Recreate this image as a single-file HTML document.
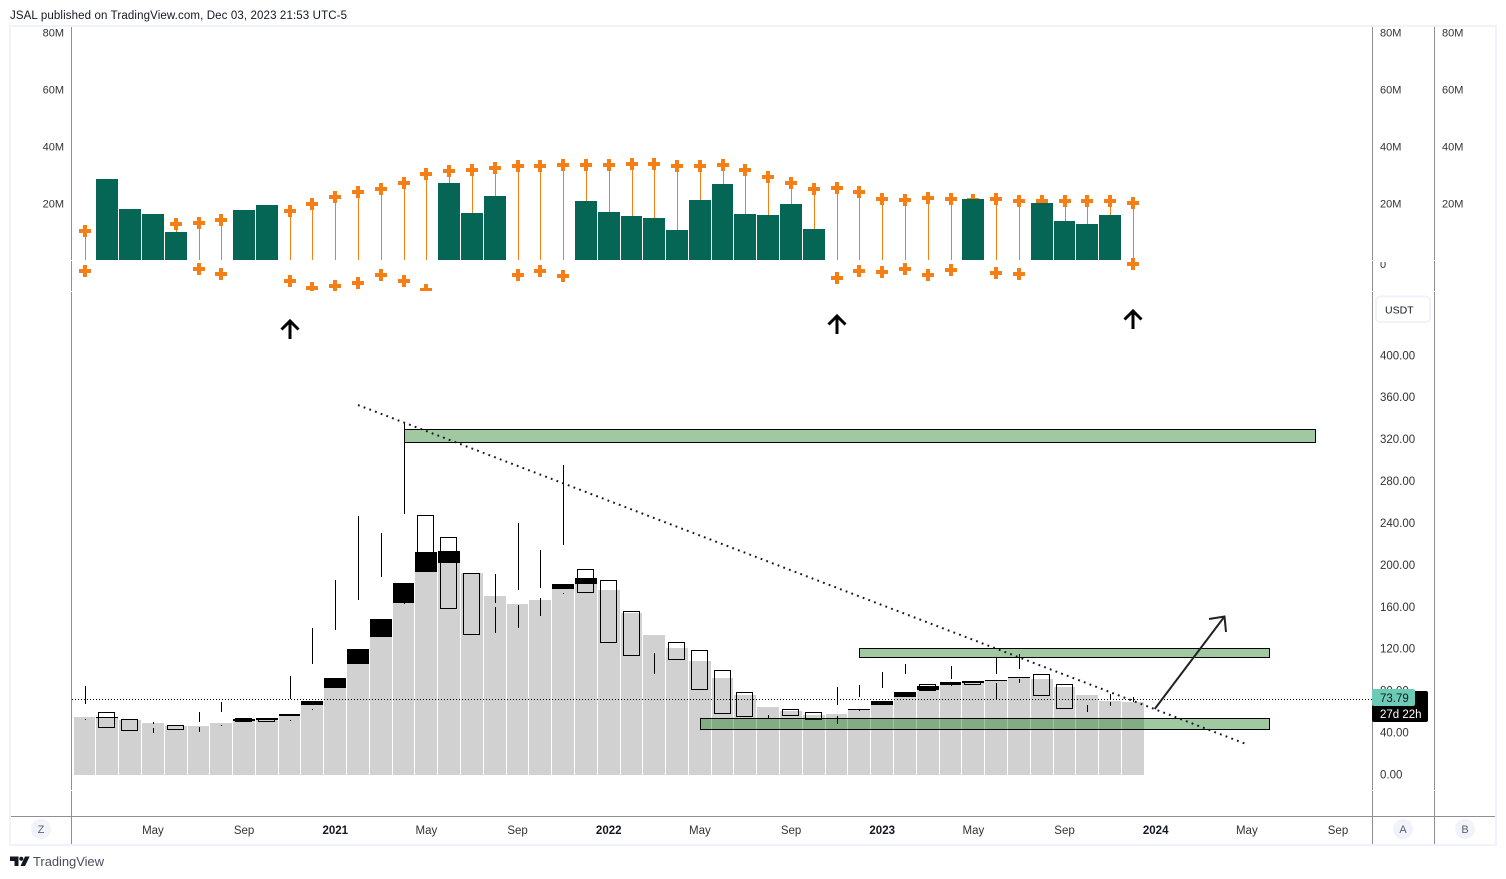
<!DOCTYPE html>
<html>
<head>
<meta charset="utf-8">
<title>JSAL chart</title>
<style>
html,body{margin:0;padding:0;background:#fff;width:1506px;height:879px;overflow:hidden}
svg{display:block;font-family:"Liberation Sans",sans-serif}
</style>
</head>
<body>
<svg id="chart" xmlns="http://www.w3.org/2000/svg" width="1506" height="879" viewBox="0 0 1506 879">
  <defs>
    <clipPath id="vol-clip"><rect x="72" y="27" width="1300" height="264"></rect></clipPath>
    <clipPath id="zero-clip"><rect x="1373" y="262" width="60" height="29"></rect></clipPath>
  </defs>
  <text x="10" y="19" font-size="11.5" fill="#131722" textLength="337" lengthAdjust="spacing">JSAL published on TradingView.com, Dec 03, 2023 21:53 UTC-5</text>
  <rect x="10" y="26" width="1486" height="819" fill="#fff" stroke="#f0f3fa" stroke-width="2"></rect>

  <g id="volume-layer" clip-path="url(#vol-clip)"></g>
  <g id="price-layer"></g>
  <g id="axis-layer"></g>

  <g fill="none" stroke="#000" stroke-width="3">
    <path d="M290 321V339M281.500 329.500L290 321L298.500 329.500"></path>
  </g>
  <g fill="none" stroke="#000" stroke-width="3">
    <path d="M837 316V334M828.500 324.500L837 316L845.500 324.500"></path>
  </g>
  <g fill="none" stroke="#000" stroke-width="3">
    <path d="M1133 311V329M1124.500 319.500L1133 311L1141.500 319.500"></path>
  </g>

  <rect x="404.500" y="429.500" width="911" height="13" fill="rgba(0,109,0,.37)" stroke="#000" stroke-width="1"></rect>
  <rect x="859.500" y="648.500" width="410" height="9" fill="rgba(0,109,0,.37)" stroke="#000" stroke-width="1"></rect>
  <rect x="700.500" y="718.500" width="569" height="11" fill="rgba(0,109,0,.37)" stroke="#000" stroke-width="1"></rect>
  <line x1="358" y1="405" x2="1246" y2="744" stroke="#131722" stroke-width="2" stroke-dasharray="1.800 4.270"></line>
  <g fill="none" stroke="#222" stroke-width="2">
    <path d="M1154.700 709L1224.500 616.500M1209 619L1224.500 616.500L1226 632"></path>
  </g>

  <g>
    <rect x="1376" y="296.500" width="54" height="25.500" rx="4" fill="#fff" stroke="#f0f3fa" stroke-width="2"></rect>
    <text x="1385" y="313.500" font-size="10.500" fill="#131722">USDT</text>
  </g>
  <g>
    <rect x="1372" y="691" width="56" height="31" rx="2" fill="#000"></rect>
    <text x="1380" y="718" font-size="11.500" fill="#fff">27d 22h</text>
  </g>
  <g>
    <rect x="1372" y="689" width="43" height="17" rx="2" fill="#6ccbb6"></rect>
    <text x="1380" y="702" font-size="11.500" fill="#131722">73.79</text>
  </g>

  <g>
    <circle cx="41" cy="829" r="10" fill="#f0f3fa"></circle>
    <text x="41" y="833" font-size="11" fill="#5d606b" text-anchor="middle">Z</text>
  </g>
  <g>
    <circle cx="1403" cy="829" r="10" fill="#f0f3fa"></circle>
    <text x="1403" y="833" font-size="11" fill="#5d606b" text-anchor="middle">A</text>
  </g>
  <g>
    <circle cx="1465" cy="829" r="10" fill="#f0f3fa"></circle>
    <text x="1465" y="833" font-size="11" fill="#5d606b" text-anchor="middle">B</text>
  </g>

  <g>
    <path d="M10 856.500H18.500V866H14.500V861H10Z" fill="#131722"></path>
    <circle cx="21.300" cy="858.800" r="2" fill="#131722"></circle>
    <path d="M25 856.500H29.700L25 866H20.500Z" fill="#131722"></path>
    <text x="33" y="866" font-size="13" fill="#4a4e5a" textLength="71" lengthAdjust="spacing">TradingView</text>
  </g>
</svg>
<script>
/* Volume pane data, millions. null = no mark in that period */
var volumeBars = [null,28.4,17.9,16.1,9.8,null,null,17.5,19.3,null,null,null,null,null,null,null,27.0,16.5,22.5,null,null,null,20.7,16.8,15.4,14.7,10.5,21.1,26.7,16.1,15.8,19.6,10.9,null,null,null,null,null,null,21.4,null,null,20.0,13.7,12.6,15.8,null];
var upperMarks = [10.2,12,12,12,12.6,13.0,14.0,14.5,15.5,17.2,19.6,22.1,23.9,24.9,27.0,30.2,31.2,31.6,32.3,33.0,33.0,33.3,33.3,33.3,33.7,33.7,33.0,33.0,33.3,31.6,29.1,27.0,24.9,25.3,23.9,21.4,21.1,21.8,21.4,21.1,21.4,20.7,20.7,20.7,20.7,20.7,20.0];
var lowerMarks = [-3.9,null,null,null,null,-3.2,-4.9,null,null,-7.4,-9.8,-9.1,-8.1,-5.3,-7.4,-10.5,null,null,null,-5.3,-3.9,-5.6,null,null,null,null,null,null,null,null,null,null,null,-6.3,-3.9,-4.2,-3.2,-5.3,-3.5,null,-4.6,-4.9,null,null,null,null,-1.4];

/* Price pane data, USDT */
var grayColumns = [55.3,54.4,52.5,49.6,46.8,46.8,49.6,51.5,52.5,56.3,66.8,83.0,105.9,131.7,164.1,193.7,202.3,192.7,170.8,163.2,167.0,177.5,182.2,176.5,154.6,133.6,121.2,108.8,92.6,76.3,64.9,61.1,57.3,58.2,62.0,66.8,74.4,81.1,85.9,87.8,89.7,92.6,91.6,84.0,76.3,70.6,69.7];
var blackColumns = [null,55.3,null,null,null,null,null,53.4,54.4,58.2,70.6,92.6,120.2,148.9,183.2,212.8,213.7,null,null,null,null,182.2,188.0,null,null,null,null,null,null,null,null,null,null,null,63.0,70.6,79.2,84.9,88.7,89.7,90.6,93.5,null,null,null,null,null];
var candleOpen = [53.4,60.1,53.4,44.8,47.7,45.8,47.7,54.4,54.4,52.5,63.0,90.6,119.3,147.9,164.1,248.1,227.1,192.7,160.3,162.2,168.9,173.7,196.6,186.1,156.5,96.4,126.9,119.3,100.2,79.2,53.4,63.0,60.1,56.3,62.0,67.7,75.4,86.8,85.9,89.7,87.8,91.6,96.4,86.8,60.1,69.7,69.7];
var candleHigh = [84.9,60.1,53.4,50.6,47.7,60.1,69.7,54.4,54.4,94.5,140.3,186.1,247.1,230.9,336.8,248.1,227.1,192.7,191.8,240.5,214.7,295.8,196.6,186.1,156.5,116.4,126.9,119.3,100.2,79.2,57.3,63.0,60.1,84.0,85.9,98.3,105.9,86.8,104.0,89.7,111.6,115.5,96.4,86.8,66.8,77.3,74.4];
var candleLow = [52.5,45.8,42.9,40.1,43.9,41.0,46.8,51.5,51.5,51.5,62.0,90.6,119.3,147.9,163.2,209.0,159.4,134.5,135.5,140.3,151.7,172.7,174.6,126.9,114.5,96.4,110.7,82.1,59.2,56.3,53.4,57.3,53.4,48.7,61.1,67.7,75.4,81.1,84.9,86.8,72.5,87.8,76.3,63.9,60.1,65.8,69.7];
var candleClose = [67.7,45.8,42.9,48.7,43.9,50.6,60.1,51.5,51.5,72.5,105.9,138.4,167.0,188.9,249.0,209.0,159.4,134.5,164.1,176.5,178.4,219.5,174.6,126.9,114.5,96.4,110.7,82.1,59.2,56.3,53.4,57.3,53.4,66.8,74.4,83.0,96.4,81.1,91.6,86.8,96.4,101.1,76.3,63.9,60.1,72.5,69.7];
var priceLineValue = 72.5;

/* Axis labels */
var volumeTicks = [20,40,60,80];
var priceTicks = [0,40,80,120,160,200,240,280,320,360,400];
var timeLabels = ['May','Sep','2021','May','Sep','2022','May','Sep','2023','May','Sep','2024','May','Sep'];
var timeLabelPeriods = [3,7,11,15,19,23,27,31,35,39,43,47,51,55];

var NS = 'http://www.w3.org/2000/svg';
function xAt(i){ return 84.56 + i * 22.79; }
function volY(v){ return 260 - v * 2.85; }
function priceY(p){ return 775 - p * 1.048; }
function colLeft(i){ return Math.round(xAt(i) - 11); }
function colWidth(i){ return Math.round(xAt(i + 1) - 11) - 1 - colLeft(i); }

function makeRect(parent, x, y, w, h, fill){
  var r = document.createElementNS(NS, 'rect');
  r.setAttribute('x', x);
  r.setAttribute('y', y);
  r.setAttribute('width', w);
  r.setAttribute('height', Math.max(h, 0));
  r.setAttribute('fill', fill);
  r.setAttribute('shape-rendering', 'crispEdges');
  parent.appendChild(r);
  return r;
}
function makeText(parent, x, y, str, size, fill, anchor){
  var t = document.createElementNS(NS, 'text');
  t.setAttribute('x', x);
  t.setAttribute('y', y);
  t.setAttribute('font-size', size);
  t.setAttribute('fill', fill);
  if (anchor) t.setAttribute('text-anchor', anchor);
  t.textContent = str;
  parent.appendChild(t);
  return t;
}

var ORANGE = '#f57f17';
var volLayer = document.getElementById('volume-layer');
var priceLayer = document.getElementById('price-layer');
var axisLayer = document.getElementById('axis-layer');

function drawPlus(i, v, name){
  var cx = Math.round(xAt(i));
  var cy = Math.round(volY(v));
  var g = document.createElementNS(NS, 'g');
  
  
  makeRect(g, cx - 6, cy - 2, 12, 4, ORANGE);
  makeRect(g, cx - 2, cy - 6, 4, 12, ORANGE);
  volLayer.appendChild(g);
}

upperMarks.forEach(function(v, i){
  var stem = makeRect(volLayer, Math.round(xAt(i)), volY(v), 1, 260 - volY(v), ORANGE);
  
  
  drawPlus(i, v, 'upper-plus-marker');
});
lowerMarks.forEach(function(v, i){
  if (v === null) return;
  drawPlus(i, v, 'lower-plus-marker');
});
volumeBars.forEach(function(v, i){
  if (v === null) return;
  var bar = makeRect(volLayer, colLeft(i), volY(v), colWidth(i), 260 - volY(v), '#056656');
  
  
});

grayColumns.forEach(function(v, i){
  var col = makeRect(priceLayer, colLeft(i), priceY(v), colWidth(i), 775 - priceY(v), '#d1d1d1');
  
  
});

candleOpen.forEach(function(o, i){
  var c = candleClose[i];
  var cx = Math.round(xAt(i));
  if (c >= o) {
    var upper = makeRect(priceLayer, cx, priceY(candleHigh[i]), 1, priceY(c) - priceY(candleHigh[i]), '#000');
    
    
    var lower = makeRect(priceLayer, cx, priceY(o), 1, priceY(candleLow[i]) - priceY(o), '#000');
    
    
  } else {
    var body = makeRect(priceLayer, cx - 8.5, priceY(o) + 0.5, 16, priceY(c) - priceY(o), 'none');
    body.setAttribute('stroke', '#000');
    body.setAttribute('stroke-width', '1');
    
    
  }
});

blackColumns.forEach(function(v, i){
  if (v === null) return;
  var blk = makeRect(priceLayer, colLeft(i), priceY(v), colWidth(i), priceY(grayColumns[i]) - priceY(v), '#000');
  
  
});

var priceLine = document.createElementNS(NS, 'line');
priceLine.setAttribute('x1', 72);
priceLine.setAttribute('x2', 1372);
priceLine.setAttribute('y1', Math.round(priceY(priceLineValue)) + 0.5);
priceLine.setAttribute('y2', Math.round(priceY(priceLineValue)) + 0.5);
priceLine.setAttribute('stroke', '#000');
priceLine.setAttribute('stroke-width', '1');
priceLine.setAttribute('stroke-dasharray', '1 2');


priceLayer.appendChild(priceLine);

[71, 1372, 1434].forEach(function(ax){
  [[27, 233], [261, 30], [292, 498], [791, 53]].forEach(function(seg){
    var a = makeRect(axisLayer, ax, seg[0], 1, seg[1], '#8f8f8f');
    
    
  });
});
var timeLine = makeRect(axisLayer, 11, 816, 1484, 1, '#8f8f8f');



volumeTicks.forEach(function(v){
  var y = volY(v) + 4.5;
  var left = makeText(axisLayer, 64, y, v + 'M', 11, '#333', 'end');
  
  
  var right = makeText(axisLayer, 1380, y, v + 'M', 11, '#333');
  
  
  var far = makeText(axisLayer, 1442, y, v + 'M', 11, '#333');
  
  
});
var zeroTick = makeText(axisLayer, 1380, 268, '0', 11, '#333');
zeroTick.setAttribute('clip-path', 'url(#zero-clip)');



priceTicks.forEach(function(p){
  var t = makeText(axisLayer, 1380, priceY(p) + 3.5, p.toFixed(2), 11.5, '#333');
  
  
});

timeLabels.forEach(function(label, k){
  var isYear = label.length === 4;
  var t = makeText(axisLayer, xAt(timeLabelPeriods[k]), 834, label, 11.5, isYear ? '#131722' : '#333', 'middle');
  if (isYear) t.setAttribute('font-weight', '700');
  
  
});
</script>
</body>
</html>
